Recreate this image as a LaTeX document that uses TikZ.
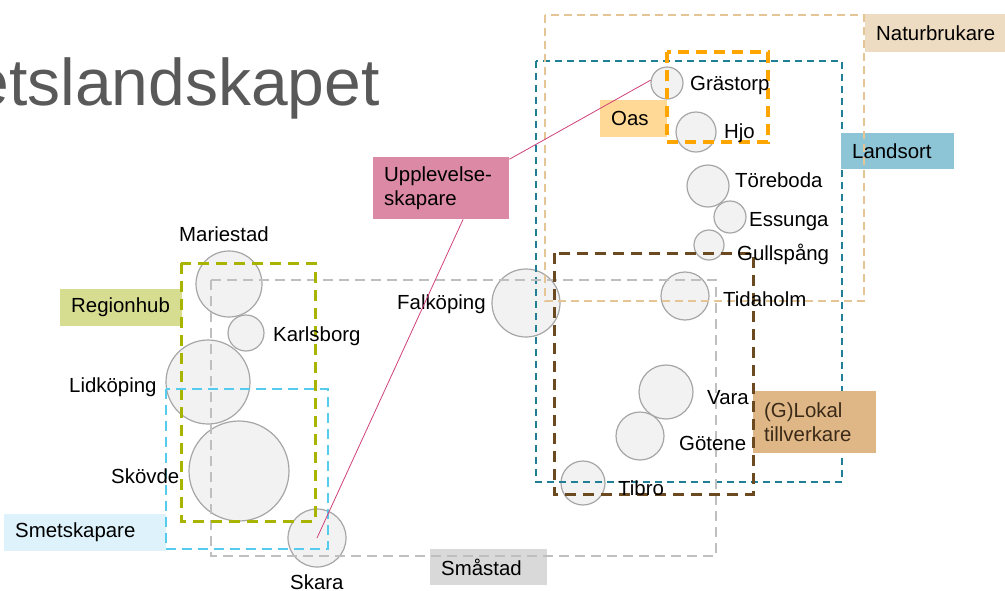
\documentclass[tikz,border=0pt]{standalone}
\usepackage{fontspec}
\setmainfont{Liberation Sans}
\usepackage{tikz}
\usetikzlibrary{positioning,calc}
\usepackage{xcolor}

\definecolor{ringgray}{HTML}{A6A6A6}
\definecolor{ringfill}{HTML}{F2F2F2}
\definecolor{titlegray}{HTML}{595959}
\definecolor{naturline}{HTML}{E5C596}
\definecolor{naturfill}{HTML}{EEDCC2}
\definecolor{landline}{HTML}{1F7F95}
\definecolor{landfill}{HTML}{8DC5D6}
\definecolor{oasline}{HTML}{FFA500}
\definecolor{oasfill}{HTML}{FFD995}
\definecolor{lokalline}{HTML}{6B4A22}
\definecolor{lokalfill}{HTML}{DFB787}
\definecolor{lokaltext}{HTML}{3B2A17}
\definecolor{smaline}{HTML}{BFBFBF}
\definecolor{smafill}{HTML}{D9D9D9}
\definecolor{hubline}{HTML}{A8B400}
\definecolor{hubfill}{HTML}{D7DD90}
\definecolor{smetline}{HTML}{55CCEE}
\definecolor{smetfill}{HTML}{DDF2FA}
\definecolor{upfill}{HTML}{DC89A6}
\definecolor{upline}{HTML}{D0407A}

\tikzset{
    town/.style={circle, draw=ringgray, line width=1.2pt, fill=ringfill, inner sep=0pt},
    townlbl/.style={anchor=base west, inner sep=0pt, font=\fontsize{20.4}{24}\selectfont},
    tag/.style={anchor=north west, inner xsep=11pt, inner ysep=0pt, align=left,
        font=\fontsize{20.4}{24.5}\selectfont},
    zone/.style={line width=#1},
    link/.style={upline, line width=0.8pt}
}

\begin{document}
\begin{tikzpicture}[x=1pt, y=-1pt]
    \useasboundingbox (0,0) rectangle (1005,590);

    \node[anchor=base east, inner sep=0pt, text=titlegray, font=\fontsize{66}{70}\selectfont] (title) at (380,105) {etslandskapet};

    % Towns
    \foreach \n/\x/\y/\r in {grastorp/667/83/16, hjo/696/132/20, toreboda/708/186/21,
        essunga/730/217/16, gullspang/709/245/15, tidaholm/685/296/24, falkoping/526/303/34,
        vara/666/392/27, gotene/640/436/24, tibro/583/483/22, mariestad/229/284/33,
        karlsborg/246/333/18, lidkoping/208/382/42, skovde/239/471/50, skara/317/538/29} {
        \node[town, minimum size=2*\r pt] (\n) at (\x,\y) {};
    }

    % Landsort zone (under its tag)
    \draw[landline, zone=1.8pt, dash pattern=on 7pt off 5pt] (536,61) rectangle (842,482);

    % Tags
    \node[tag, fill=naturfill, text width=118pt, minimum height=38pt] (naturtag) at (865,14) {Naturbrukare};
    \node[tag, fill=landfill, text width=91pt, minimum height=36pt] (landtag) at (841,133) {Landsort};
    \node[tag, fill=oasfill, text width=45pt, minimum height=37pt] (oastag) at (600,100) {Oas};
    \node[tag, fill=upfill, text width=114pt, minimum height=62pt] (uptag) at (373,157) {Upplevelse-\\skapare};
    \node[tag, fill=lokalfill, text=lokaltext, text width=101pt, minimum height=62pt] (lokaltag) at (753,391) {(G)Lokal\\tillverkare};
    \node[tag, fill=hubfill, text width=100pt, minimum height=37pt] (hubtag) at (60,289) {Regionhub};
    \node[tag, fill=smetfill, text width=140pt, minimum height=37pt] (smettag) at (4,514) {Smetskapare};
    \node[tag, fill=smafill, text width=95pt, minimum height=36pt] (smatag) at (430,549) {Småstad};

    % Zones
    \draw[naturline, zone=1.8pt, dash pattern=on 8pt off 5pt] (545,15) rectangle (864,301);
    \draw[smaline, zone=2.5pt, dash pattern=on 10pt off 6pt] (211,280) rectangle (716,556);
    \draw[lokalline, zone=3pt, dash pattern=on 11pt off 7pt] (554,253) rectangle (753,494);
    \draw[oasline, zone=3.5pt, dash pattern=on 11pt off 7pt] (667,52) rectangle (768,142);
    \draw[hubline, zone=3pt, dash pattern=on 11pt off 7pt] (181,263) rectangle (315,521);
    \draw[smetline, zone=2.5pt, dash pattern=on 10pt off 6pt] (166,389) rectangle (328,549);

    % Town names
    \foreach \n/\x/\y/\txt in {grastorp/690/90/Grästorp, hjo/724/138/Hjo, toreboda/735/187/Töreboda,
        essunga/749/226/Essunga, gullspang/737/260/Gullspång, tidaholm/723/306/Tidaholm,
        falkoping/397/309/Falköping, vara/707/404/Vara, gotene/679/450/Götene, tibro/618/495/Tibro,
        mariestad/179/241/Mariestad, karlsborg/273/341/Karlsborg, lidkoping/69/392/Lidköping,
        skovde/111/483/Skövde, skara/290/589/Skara} {
        \node[townlbl] (\n-lbl) at (\x,\y) {\txt};
    }

    % Links
    \draw[link] (uptag.-55) -- (skara.center);
    \draw[link] (uptag.23) -- (grastorp.170);
\end{tikzpicture}
\end{document}
